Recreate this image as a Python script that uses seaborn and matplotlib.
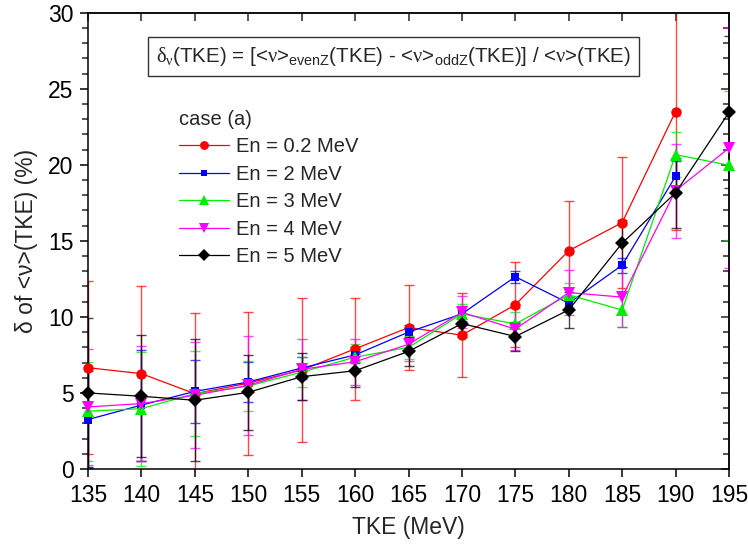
import numpy as np
import pandas as pd
import matplotlib
matplotlib.use("Agg")
import matplotlib.pyplot as plt
import seaborn as sns
from matplotlib.lines import Line2D

# ---------------- data ----------------
tke = [135, 140, 145, 150, 155, 160, 165, 170, 175, 180, 185, 190, 195]

cases = ["En = 0.2 MeV", "En = 2 MeV", "En = 3 MeV", "En = 4 MeV", "En = 5 MeV"]

val_02 = [6.66, 6.27, 4.95, 5.65, 6.50, 7.90, 9.30, 8.80, 10.80, 14.35, 16.20, 23.50]
err_02 = [5.70, 5.75, 5.30, 4.70, 4.75, 3.35, 2.80, 2.75, 2.80, 3.30, 4.30, 7.80]

val_2 = [3.25, 4.20, 5.10, 5.72, 6.64, 7.50, 9.00, 10.20, 12.64, 10.90, 13.40, 19.25]
err_2 = [3.20, 3.65, 2.05, 1.30, 0.70, 0.55, 0.50, 0.50, 0.40, 0.40, 0.50, 1.00]

val_3 = [3.80, 3.97, 4.95, 5.45, 6.37, 7.35, 8.00, 10.20, 9.54, 11.45, 10.45, 20.67, 19.97]
err_3 = [3.25, 3.75, 2.80, 1.65, 1.00, 0.90, 0.75, 0.65, 0.80, 0.77, 1.10, 1.50, 4.90]

val_4 = [4.08, 4.30, 4.85, 5.50, 6.55, 7.05, 8.20, 10.30, 9.20, 11.60, 11.30, 18.30, 21.10]
err_4 = [3.84, 3.78, 3.50, 3.25, 2.00, 1.50, 1.10, 1.05, 1.37, 1.50, 1.96, 3.10, 7.90]

val_5 = [5.00, 4.78, 4.52, 5.04, 6.07, 6.46, 7.73, 9.56, 8.71, 10.46, 14.85, 18.16, 23.45]
err_5 = [4.90, 4.00, 4.00, 2.45, 1.55, 1.10, 0.95, 0.90, 0.96, 1.18, 1.55, 2.30, 5.00]

values = [val_02, val_2, val_3, val_4, val_5]
errors = [err_02, err_2, err_3, err_4, err_5]

colors = ["#ff0000", "#0000ff", "#00ee00", "#ff00ff", "#000000"]
markers = ["o", "s", "^", "v", "D"]
msizes = [7.5, 5.5, 8.5, 8.5, 7.0]

xticks = [135, 140, 145, 150, 155, 160, 165, 170, 175, 180, 185, 190, 195]
yticks = [0, 5, 10, 15, 20, 25, 30]

# ---------------- build table ----------------
rows = []
for c, v, e in zip(cases, values, errors):
    for x, y, s in zip(tke, v, e):
        rows.append({"TKE": x, "delta": y, "err": s, "case": c})
df = pd.DataFrame(rows)

# ---------------- style ----------------
sns.set_theme(style="ticks")
plt.rcParams["font.family"] = ["Liberation Sans", "DejaVu Sans"]
plt.rcParams["mathtext.fontset"] = "custom"
plt.rcParams["mathtext.rm"] = "Liberation Sans"
plt.rcParams["mathtext.it"] = "Liberation Serif"
plt.rcParams["axes.linewidth"] = 1.1

fig = plt.figure(figsize=(7.48, 5.49), dpi=100)
ax = fig.add_axes([88 / 748, 1 - 469 / 549, (729 - 88) / 748, (469 - 12.7) / 549])

# error bars
for i, c in enumerate(cases):
    sub = df[df["case"] == c]
    ax.errorbar(sub["TKE"], sub["delta"], yerr=sub["err"], fmt="none",
                ecolor=colors[i], elinewidth=1.0, capsize=3.8, capthick=1.0,
                alpha=0.72, zorder=2 + i * 0.1)

# lines with markers
pal = dict(zip(cases, colors))
mk = dict(zip(cases, markers))
sns.lineplot(data=df, x="TKE", y="delta", hue="case", style="case",
             palette=pal, markers=mk, dashes=False, sort=False,
             linewidth=0.9, markeredgewidth=0, ax=ax, legend=False,
             clip_on=False, zorder=3)
for line, ms in zip(ax.get_lines()[-5:], msizes):
    line.set_markersize(ms)

ax.set_xlim(135, 195)
ax.set_ylim(0, 30)
ax.set_xticks(xticks)
ax.set_yticks(yticks)
ax.set_yticks(np.arange(0, 31, 1), minor=True)
ax.tick_params(axis="both", which="major", direction="out", length=6,
               width=1.1, labelsize=16.5, pad=4.5, colors="black")
ax.tick_params(axis="y", which="minor", direction="out", length=4, width=1.1)
ax.tick_params(axis="x", which="minor", bottom=False)

for s in ax.spines.values():
    s.set_color("black")
    s.set_linewidth(1.1)

# top/right inward ticks
secx = ax.secondary_xaxis("top")
secx.set_xticks(xticks)
secx.tick_params(direction="in", length=6, width=1.1, labeltop=False)
secy = ax.secondary_yaxis("right")
secy.set_yticks(yticks)
secy.set_yticks(np.arange(0, 31, 1), minor=True)
secy.tick_params(which="major", direction="in", length=6, width=1.1, labelright=False)
secy.tick_params(which="minor", direction="in", length=4, width=1.1)

ax.set_xlabel("TKE (MeV)", fontsize=16.5, labelpad=7)
ax.set_ylabel("δ of <ν>(TKE) (%)", fontsize=16.5, labelpad=7)

# formula box
ax.text(0.4766, 0.904,
        r"$\delta_\nu$(TKE) = [<$\nu$>$_{\rm evenZ}$(TKE) - <$\nu$>$_{\rm oddZ}$(TKE)] / <$\nu$>(TKE)",
        transform=ax.transAxes, ha="center", va="center", fontsize=14.8,
        bbox=dict(boxstyle="square,pad=0.4", fc="white", ec="#333333", lw=1.0))

# legend
handles = [Line2D([], [], color=colors[i], marker=markers[i], lw=0.9,
                  markersize=msizes[i] * 0.85, markeredgewidth=0)
           for i in range(5)]
leg = ax.legend(handles, cases, title="case (a)", loc="upper left",
                bbox_to_anchor=((179 - 88) / 641, (469 - 110) / 456.3),
                frameon=False, fontsize=14.5, title_fontsize=14.5,
                handlelength=2.5, handletextpad=0.35, labelspacing=0.42,
                borderpad=0, borderaxespad=0, alignment="left")

fig.savefig("out.png", dpi=100)
